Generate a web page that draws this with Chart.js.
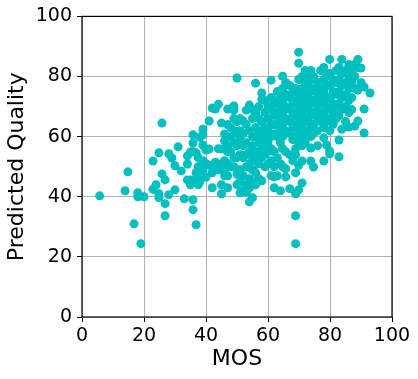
<!DOCTYPE html>
<html>
<head>
<meta charset="utf-8">
<script src="https://cdn.jsdelivr.net/npm/chart.js@4"></script>
<style>
    html, body { margin: 0; padding: 0; background: #fff; }
</style>
</head>
<body>
<canvas id="scatterChart" width="418" height="379"></canvas>
<script>
// MOS value of each column of points, and the predicted quality values found at that MOS
const mosColumns = [
    5.7, 13.9, 14.8, 16.8, 18, 19, 20, 22.9, 23.9, 24.8, 25.8, 26.8, 28, 29, 30, 31, 32, 33,
    34, 35, 35.8, 36.8, 37.5, 38, 39, 40, 41, 42, 43, 44, 45, 46, 47, 48, 49, 50,
    51, 52, 53, 54, 55, 56, 57, 58, 59, 60, 61, 62, 63, 64, 64.7, 65.7, 67, 68,
    68.9, 69.9, 71, 72, 73, 73.8, 74.7, 76, 77, 78, 78.9, 79.9, 81, 82, 82.9, 83.8,
    85, 86.1, 87, 88, 89, 90, 91, 92.9
];
const predictedColumns = [
    [40.3], [42], [48.3], [31], [41.3, 40], [24.4], [40], [51.9, 42.5], [44],
    [54.6, 41, 39.7], [64.5, 47.6], [45.6, 37.7, 33.7], [54.3, 40.7], [52.9],
    [42.3, 50.3], [56.6], [48.6], [39.3],
    [50.9, 53.6, 45.6], [54.9, 45.6, 44], [60.6, 57.9, 55, 39, 35.7], [54.6, 48, 46, 30.7],
    [53, 50, 47, 44], [59.8, 49, 45], [62.5, 60.6, 57.2, 52, 48.5], [55.5, 51, 46.5],
    [65.2, 55.9, 50.5], [69.5, 48, 43], [69.2, 51.5, 50], [70.8, 56, 49],
    [64.5, 55.9, 51, 44, 41], [60.9, 58.6, 52, 48.5, 47], [69.2, 64, 57, 55, 51, 47, 43],
    [63, 60, 55, 50], [70.2, 68.8, 66, 62, 58, 53, 50], [79.5, 65, 61, 57, 53, 47.5, 44],
    [66, 62, 59, 54, 49, 45, 41.3], [65.2, 61, 57, 53, 47, 42], [68.8, 64, 58, 54, 50, 44, 41.5],
    [70.5, 62, 55, 51, 46, 43, 38.3], [69, 66, 60, 57, 53, 49, 45, 39.7],
    [77.8, 68, 63, 60, 55, 52, 48, 44], [70, 66, 61, 58, 54, 51, 46],
    [74.5, 72.5, 65, 62, 59, 56, 53, 45.3], [72, 68, 63, 60, 57, 54, 50],
    [70, 66, 62, 58, 55, 50.9], [78.8, 73, 69, 64, 60, 56, 52, 47],
    [71, 67, 64, 61, 55, 50, 43, 46.6], [75, 72, 68, 64, 60, 53, 47],
    [73, 70, 66, 62, 58, 51, 42], [80.1, 76, 72, 68, 64, 60, 56, 50],
    [78, 74, 70, 66, 62, 55, 49.3, 46.6], [77, 73, 69, 65, 61, 54, 42.7],
    [75, 71, 67, 63, 59, 52],
    [76, 72, 68, 64, 60, 56, 54, 48, 41, 33.7, 24.4],
    [88.1, 84.4, 79, 74, 70, 66, 62, 58, 50.5, 42.3],
    [80, 76, 72, 68, 64, 60, 57, 51.9, 44.6], [82, 78, 74, 70, 66, 62, 58],
    [81, 77, 73, 69, 65, 61], [82, 79, 75, 71, 67, 63, 60, 56.2, 51.9],
    [80, 76, 72, 68, 64, 61, 49.9], [78, 74, 70, 66, 62, 57], [82, 76, 72, 68, 65],
    [83, 79, 75, 71, 67, 63, 59.6, 51.9], [80, 77, 73, 69, 65, 57.2],
    [85.7, 81, 77, 73, 70, 66, 62, 55.2, 54.3], [79, 75, 71, 68, 64], [82, 78, 74, 70, 66],
    [83, 79, 75, 71, 67, 58.9, 53.3], [85.7, 81, 77, 73, 69, 62.5],
    [82, 78, 74, 70, 65], [84, 80, 76, 72, 68, 63.2], [82, 78, 73, 69], [84, 80, 76, 63.5],
    [85.7, 83, 75.5, 65.2], [82.8, 78], [76.5, 69.2, 61.2], [74.5]
];
const xTicks = [0, 20, 40, 60, 80, 100];
const yTicks = [0, 20, 40, 60, 80, 100];

// flatten columns into {x, y} points
const points = [];
mosColumns.forEach((mos, i) => {
    predictedColumns[i].forEach(q => points.push({ x: mos, y: q }));
});

// black box round the plot area (matplotlib spines)
const framePlugin = {
    id: 'frame',
    afterDatasetsDraw(chart) {
        const { ctx, chartArea: a } = chart;
        ctx.save();
        ctx.strokeStyle = '#000';
        ctx.lineWidth = 1.2;
        ctx.strokeRect(a.left, a.top, a.right - a.left, a.bottom - a.top);
        ctx.restore();
    }
};

const tickFont = { family: 'DejaVu Sans', size: 19 };
const titleFont = { family: 'DejaVu Sans', size: 22 };

new Chart(document.getElementById('scatterChart').getContext('2d'), {
    type: 'scatter',
    data: {
        datasets: [{
            data: points,
            backgroundColor: '#00bfbf',
            borderWidth: 0,
            pointRadius: 4.5,
            pointHoverRadius: 4.5
        }]
    },
    options: {
        responsive: false,
        animation: false,
        devicePixelRatio: 1,
        layout: { padding: { top: 15, right: 26, left: 0, bottom: 0 } },
        plugins: {
            legend: { display: false },
            tooltip: { enabled: false }
        },
        scales: {
            x: {
                type: 'linear',
                min: 0,
                max: 100,
                afterBuildTicks: s => { s.ticks = xTicks.map(v => ({ value: v })); },
                afterFit: s => { s.height = 62; },
                ticks: { font: tickFont, color: '#000', padding: 3, maxRotation: 0 },
                grid: { color: '#b0b0b0', lineWidth: 1, tickColor: '#000', tickLength: 5 },
                border: { display: false },
                title: { display: true, text: 'MOS', font: titleFont, color: '#000', padding: { top: 7, bottom: 7 } }
            },
            y: {
                type: 'linear',
                min: 0,
                max: 100,
                afterBuildTicks: s => { s.ticks = yTicks.map(v => ({ value: v })); },
                afterFit: s => { s.width = 82; },
                ticks: { font: tickFont, color: '#000', padding: 5 },
                grid: { color: '#b0b0b0', lineWidth: 1, tickColor: '#000', tickLength: 5 },
                border: { display: false },
                title: { display: true, text: 'Predicted Quality', font: titleFont, color: '#000', padding: { top: 4, bottom: 4 } }
            }
        }
    },
    plugins: [framePlugin]
});
</script>
</body>
</html>
